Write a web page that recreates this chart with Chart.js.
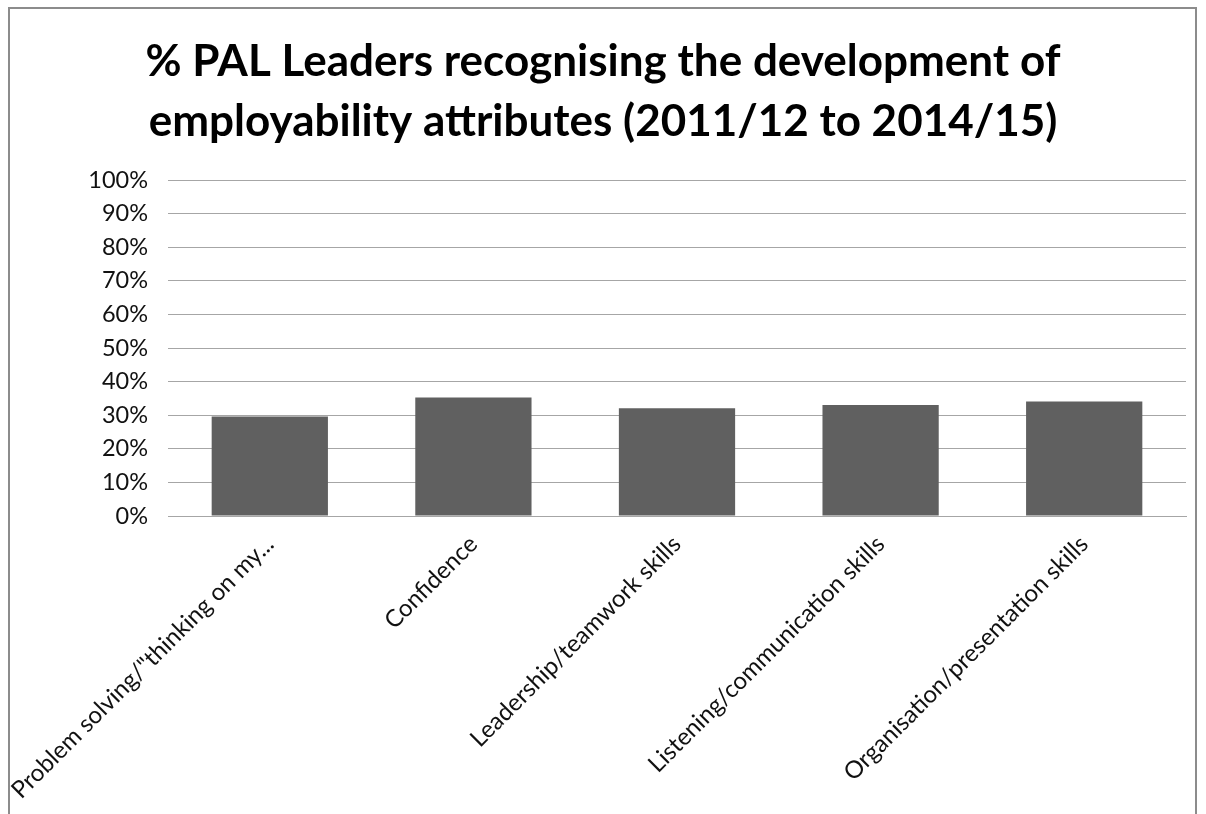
<!DOCTYPE html>
<html>
<head>
<meta charset="utf-8">
<script src="https://cdn.jsdelivr.net/npm/chart.js@4.4.1/dist/chart.umd.min.js"></script>
<style>
  html, body { margin: 0; padding: 0; background: #fff; overflow: hidden; }
  #frame {
    position: absolute; left: 8px; top: 7px; width: 1189px; height: 830px;
    border: 2px solid #8c8c8c; box-sizing: border-box;
  }
  #chart { position: absolute; left: 0; top: 0; }
</style>
</head>
<body>
<div id="frame"></div>
<canvas id="chart" width="1206" height="814"></canvas>
<script>
const titleLines = ['% PAL Leaders recognising the development of', 'employability attributes (2011/12 to 2014/15)'];
const attributes = [
  'Problem solving/"thinking on my...',
  'Confidence',
  'Leadership/teamwork skills',
  'Listening/communication skills',
  'Organisation/presentation skills'
];
const percentRecognising = [29.6, 35.3, 32.1, 33.0, 34.1];
const yTicks = [0, 10, 20, 30, 40, 50, 60, 70, 80, 90, 100];

const gridGrey = '#a6a6a6';
const textColor = '#111';

const ctx = document.getElementById('chart');
new Chart(ctx, {
  type: 'bar',
  data: {
    labels: attributes,
    datasets: [{
      data: percentRecognising,
      backgroundColor: '#606060',
      borderWidth: 0,
      categoryPercentage: 1,
      barPercentage: 0.571
    }]
  },
  options: {
    responsive: false,
    animation: false,
    devicePixelRatio: 1,
    layout: { padding: { left: 20, right: 20, top: 32, bottom: 0 } },
    plugins: {
      legend: { display: false },
      tooltip: { enabled: false },
      title: {
        display: true,
        text: titleLines,
        color: '#000',
        font: { family: 'Lato', size: 44, weight: 'bold', lineHeight: '60px' },
        padding: { top: 0, bottom: 28 }
      }
    },
    scales: {
      x: {
        grid: { display: false },
        border: { display: true, color: gridGrey, width: 1 },
        ticks: {
          color: textColor,
          font: { family: 'Lato', size: 24 },
          minRotation: 45,
          maxRotation: 45,
          autoSkip: false,
          padding: 6
        },
        afterFit: (scale) => {
          scale.height = 814 - 516;
          scale.paddingLeft = 0;
          scale.paddingRight = 0;
        }
      },
      y: {
        min: 0,
        max: 100,
        afterBuildTicks: (scale) => { scale.ticks = yTicks.map(v => ({ value: v })); },
        grid: { color: gridGrey, lineWidth: 1, drawTicks: false },
        border: { display: false },
        ticks: {
          color: textColor,
          font: { family: 'Lato', size: 23.5 },
          padding: 20,
          callback: (v) => v + '%'
        },
        afterFit: (scale) => { scale.width = 148; }
      }
    }
  }
});
</script>
</body>
</html>
